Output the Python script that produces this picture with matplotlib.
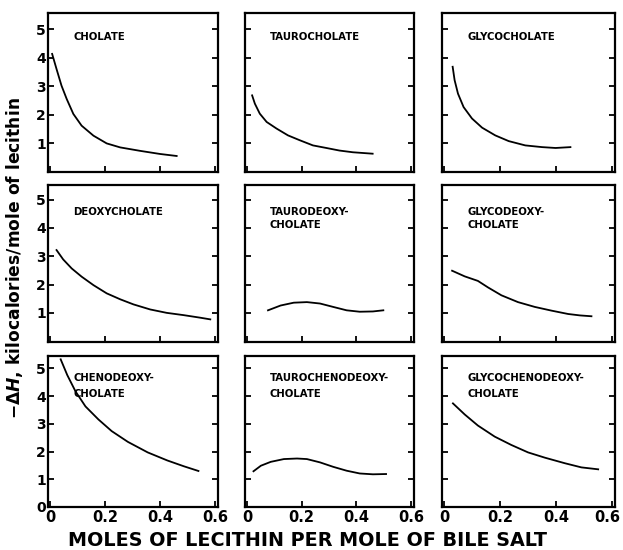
import matplotlib
matplotlib.use("Agg")
import matplotlib.pyplot as plt
import matplotlib.transforms as mtransforms

plt.rcParams['font.family'] = ['DejaVu Sans']
plt.rcParams['mathtext.fontset'] = 'custom'
plt.rcParams['mathtext.rm'] = 'DejaVu Sans:bold'
plt.rcParams['mathtext.it'] = 'DejaVu Sans:italic:bold'

# panel names (row-major)
names = ["CHOLATE", "TAUROCHOLATE", "GLYCOCHOLATE",
         "DEOXYCHOLATE", "TAURODEOXY-\nCHOLATE", "GLYCODEOXY-\nCHOLATE",
         "CHENODEOXY-\nCHOLATE", "TAUROCHENODEOXY-\nCHOLATE", "GLYCOCHENODEOXY-\nCHOLATE"]

# curve data: x = moles lecithin / mole bile salt, y = -dH (kcal/mol lecithin)
cholate_x = [0.008, 0.024, 0.042, 0.061, 0.085, 0.115, 0.158, 0.206, 0.255, 0.327, 0.40, 0.46]
cholate_y = [4.13, 3.60, 3.02, 2.55, 2.03, 1.62, 1.27, 1.00, 0.86, 0.74, 0.63, 0.56]
tauro_x = [0.019, 0.029, 0.047, 0.072, 0.108, 0.15, 0.193, 0.241, 0.29, 0.338, 0.387, 0.459]
tauro_y = [2.68, 2.39, 2.04, 1.75, 1.52, 1.28, 1.11, 0.93, 0.84, 0.75, 0.69, 0.64]
glyco_x = [0.031, 0.038, 0.05, 0.07, 0.10, 0.136, 0.183, 0.231, 0.29, 0.35, 0.398, 0.451]
glyco_y = [3.68, 3.21, 2.74, 2.27, 1.87, 1.55, 1.28, 1.08, 0.93, 0.87, 0.84, 0.87]
deoxy_x = [0.024, 0.048, 0.079, 0.115, 0.158, 0.206, 0.255, 0.303, 0.364, 0.424, 0.485, 0.545, 0.582]
deoxy_y = [3.22, 2.89, 2.57, 2.28, 1.98, 1.69, 1.48, 1.30, 1.12, 1.00, 0.92, 0.83, 0.77]
taurodeoxy_x = [0.077, 0.123, 0.171, 0.219, 0.267, 0.315, 0.364, 0.412, 0.46, 0.498]
taurodeoxy_y = [1.09, 1.26, 1.36, 1.38, 1.33, 1.21, 1.09, 1.04, 1.05, 1.09]
glycodeoxy_x = [0.029, 0.074, 0.121, 0.157, 0.205, 0.264, 0.324, 0.383, 0.443, 0.485, 0.526]
glycodeoxy_y = [2.49, 2.29, 2.13, 1.90, 1.62, 1.38, 1.21, 1.08, 0.96, 0.91, 0.88]
cheno_x = [0.039, 0.063, 0.093, 0.129, 0.176, 0.224, 0.283, 0.355, 0.426, 0.486, 0.539]
cheno_y = [5.33, 4.76, 4.17, 3.63, 3.16, 2.74, 2.35, 1.97, 1.68, 1.47, 1.30]
taurocheno_x = [0.024, 0.051, 0.087, 0.135, 0.183, 0.219, 0.267, 0.315, 0.364, 0.412, 0.46, 0.508]
taurocheno_y = [1.29, 1.49, 1.63, 1.73, 1.75, 1.73, 1.61, 1.45, 1.31, 1.21, 1.18, 1.19]
glycocheno_x = [0.032, 0.074, 0.121, 0.181, 0.24, 0.30, 0.36, 0.431, 0.49, 0.55]
glycocheno_y = [3.74, 3.34, 2.94, 2.54, 2.24, 1.97, 1.78, 1.58, 1.43, 1.36]

xs = [cholate_x, tauro_x, glyco_x, deoxy_x, taurodeoxy_x, glycodeoxy_x,
      cheno_x, taurocheno_x, glycocheno_x]
ys = [cholate_y, tauro_y, glyco_y, deoxy_y, taurodeoxy_y, glycodeoxy_y,
      cheno_y, taurocheno_y, glycocheno_y]

xticks = [0, 0.2, 0.4, 0.6]
xtick_labels = ["0", "0.2", "0.4", "0.6"]
yticks_top = [1, 2, 3, 4, 5]
yticks_bottom = [0, 1, 2, 3, 4, 5]

fig = plt.figure(figsize=(6.23, 5.5), dpi=100)
W, H = 623, 550
cols = [(48, 218), (245, 414), (442, 615)]
rows = [(13, 172), (185, 342), (356, 507)]
row_ylim = [(0, 5.56), (-0.03, 5.52), (0, 5.45)]
label_y = [37, 212, 378]     # pixel centre of first label line
line_gap = [14, 13, 16]

for i in range(9):
    r, c = divmod(i, 3)
    top, bot = rows[r]
    l, rr = cols[c]
    ax = fig.add_axes([l/W, 1 - bot/H, (rr - l)/W, (bot - top)/H])
    ax.plot(xs[i], ys[i], color='black', lw=1.3, solid_joinstyle='round')
    ax.set_xlim(-0.007, 0.61)
    ax.set_ylim(*row_ylim[r])
    for s in ax.spines.values():
        s.set_linewidth(1.6)
    ax.tick_params(direction='in', length=4, width=1.3, right=True, top=False)
    ax.set_xticks(xticks)
    if r == 2:
        ax.set_xticklabels(xtick_labels, fontweight='bold', fontsize=10.5)
        ax.tick_params(axis='x', pad=2)
        ax.set_yticks(yticks_bottom)
        if c == 2:
            last = ax.get_xticklabels()[-1]
            last.set_transform(last.get_transform() +
                               mtransforms.ScaledTranslation(-5/100, 0, fig.dpi_scale_trans))
    else:
        ax.set_xticklabels([])
        ax.set_yticks(yticks_top)
    if c == 0:
        ax.set_yticklabels([str(t) for t in ax.get_yticks()], fontweight='bold', fontsize=10)
        ax.tick_params(axis='y', pad=1.5)
    else:
        ax.set_yticklabels([])
    for k, line in enumerate(names[i].split('\n')):
        ypix = label_y[r] + k * line_gap[r]
        ax.text(25/(rr - l), (bot - ypix)/(bot - top), line, transform=ax.transAxes,
                fontsize=7.3, fontweight='bold', va='center', ha='left')

fig.text(15/W, 1 - 258/H, r'$-\mathit{\Delta H}$, kilocalories/mole of lecithin',
         rotation=90, ha='center', va='center', fontsize=12.3, fontweight='bold')
fig.text(307/W, 1 - 540/H, 'MOLES OF LECITHIN PER MOLE OF BILE SALT',
         ha='center', va='center', fontsize=13.8, fontweight='bold')

fig.savefig('out.png', dpi=100)
